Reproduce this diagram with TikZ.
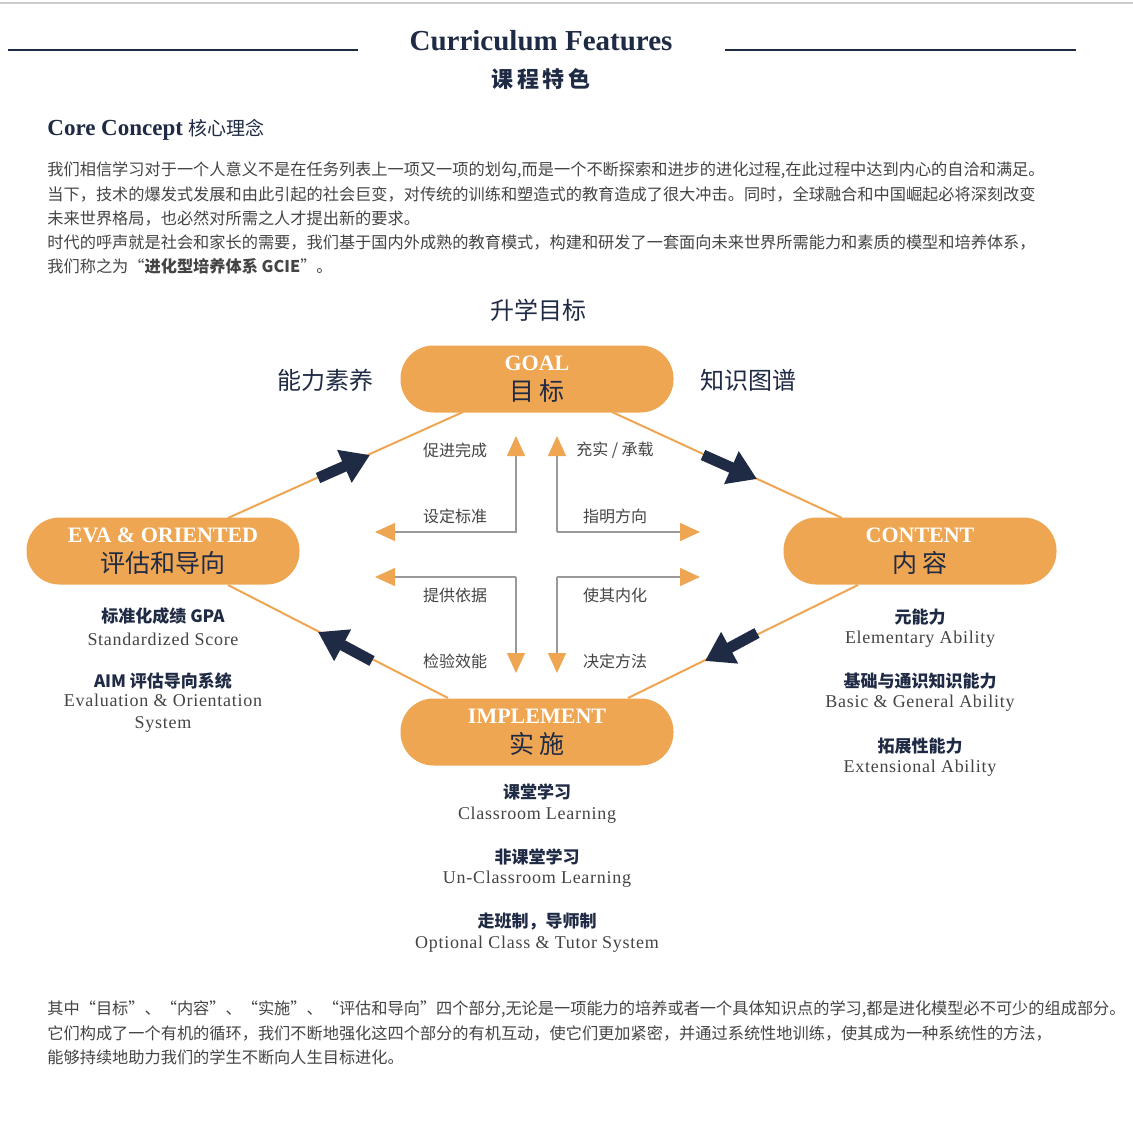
\documentclass[tikz,border=0pt]{standalone}
\usepackage{fontspec}
\setmainfont{Liberation Serif}
\newfontfamily\cjk{Noto Sans CJK SC}
\usetikzlibrary{arrows.meta}
\definecolor{orangec}{HTML}{EFA653}
\definecolor{navy}{HTML}{1F2A44}
\definecolor{txtgray}{HTML}{444444}
\newcommand{\pillen}{\color{white}\bfseries\fontsize{11}{11}\selectfont}
\newcommand{\pillcn}{\color{navy}\cjk\mdseries\fontsize{12.5}{13}\selectfont}
\tikzset{
  pill/.style={rounded corners=16.5pt,fill=orangec,minimum width=136.5pt,minimum height=33.5pt,align=center,inner sep=0pt},
  para/.style={anchor=west,font=\cjk\fontsize{8.1}{8}\selectfont,text=txtgray,inner sep=0pt},
  cnhead/.style={font=\cjk\bfseries\fontsize{8.5}{9}\selectfont,text=navy,inner sep=0pt},
  ensub/.style={font=\fontsize{9}{11}\selectfont\addfontfeatures{LetterSpace=4},text=txtgray,inner sep=0pt,align=center},
  big/.style={font=\cjk\fontsize{12}{12}\selectfont,text=navy},
  flow/.style={font=\cjk\fontsize{8}{8}\selectfont,text=txtgray},
  link/.style={orangec,line width=1pt},
  navyarrow/.style={navy,line width=5.5pt,-{Triangle[length=14pt,width=17pt]}},
  cross/.style={gray!80,line width=0.7pt,-{Triangle[length=10pt,width=9pt,color=orangec]}}
}
\begin{document}
\begin{tikzpicture}[x=0.5pt,y=-0.5pt]
\useasboundingbox[fill=white] (0,0) rectangle (1133,1123);
% header
\draw[gray!40,line width=1pt] (0,3) -- (1133,3);
\node[font=\bfseries\fontsize{14.5}{15}\selectfont,text=navy] (title) at (541,41) {Curriculum Features};
\node[font=\cjk\bfseries\fontsize{11}{11}\selectfont,text=navy] (titlecn) at (541,79) {课\,程\,特\,色};
\draw[navy,line width=0.7pt] (8,50) -- (358,50);
\draw[navy,line width=0.7pt] (725,50) -- (1076,50);
\node[anchor=west,inner sep=0pt,text=navy] (core) at (47,130) {\fontsize{11.5}{12}\selectfont\bfseries Core Concept\ \cjk\fontsize{9.5}{10}\selectfont\mdseries 核心理念};
% intro text
\node[para] (p1) at (47,170) {我们相信学习对于一个人意义不是在任务列表上一项又一项的划勾,而是一个不断探索和进步的进化过程,在此过程中达到内心的自洽和满足。};
\node[para] (p2) at (47,194) {当下，技术的爆发式发展和由此引起的社会巨变，对传统的训练和塑造式的教育造成了很大冲击。同时，全球融合和中国崛起必将深刻改变};
\node[para] (p3) at (47,218) {未来世界格局，也必然对所需之人才提出新的要求。};
\node[para] (p4) at (47,242) {时代的呼声就是社会和家长的需要，我们基于国内外成熟的教育模式，构建和研发了一套面向未来世界所需能力和素质的模型和培养体系，};
\node[para] (p5) at (47,266) {我们称之为“{\bfseries 进化型培养体系 GCIE}”。};
% diagram
\node[big] (aim) at (538,310) {升学目标};
\node[big] (ability) at (325,380) {能力素养};
\node[big] (knowledge) at (748,380) {知识图谱};
\node[pill] (goal) at (537,379) {\pillen GOAL\\[3pt]\pillcn 目\,标};
\node[pill] (eva) at (163,551) {\pillen EVA \& ORIENTED\\[3pt]\pillcn 评估和导向};
\node[pill] (content) at (920,551) {\pillen CONTENT\\[3pt]\pillcn 内\,容};
\node[pill] (impl) at (537,732) {\pillen IMPLEMENT\\[3pt]\pillcn 实\,施};
\coordinate (goalL) at (463,412); \coordinate (goalR) at (612,412);
\coordinate (evaT) at (228,518); \coordinate (evaB) at (228,585);
\coordinate (contT) at (842,518); \coordinate (contB) at (858,585);
\coordinate (implL) at (448,698); \coordinate (implR) at (628,698);
\draw[link] (goalL) -- (evaT);
\draw[link] (goalR) -- (contT);
\draw[link] (evaB) -- (implL);
\draw[link] (contB) -- (implR);
\draw[navyarrow] (318,478) -- (370,455);
\draw[navyarrow] (703,455) -- (757,479);
\draw[navyarrow] (757,633) -- (705,661);
\draw[navyarrow] (372,661) -- (318,632);
% cross
\draw[cross] (395,532) -- (516,532) -- (516,436);
\draw[cross] (516,532) -- (375,532);
\draw[cross] (557,532) -- (557,436);
\draw[cross] (557,532) -- (700,532);
\draw[cross] (516,577) -- (375,577);
\draw[cross] (516,577) -- (516,673);
\draw[cross] (557,577) -- (700,577);
\draw[cross] (557,577) -- (557,673);
\node[flow] (f1) at (455,450) {促进完成};
\node[flow] (f2) at (615,450) {充实 / 承载};
\node[flow] (f3) at (455,516) {设定标准};
\node[flow] (f4) at (615,516) {指明方向};
\node[flow] (f5) at (455,595) {提供依据};
\node[flow] (f6) at (615,595) {使其内化};
\node[flow] (f7) at (455,661) {检验效能};
\node[flow] (f8) at (615,661) {决定方法};
% details
\node[cnhead] (gpa) at (163,616) {标准化成绩 GPA};
\node[ensub] (gpaen) at (163,639) {Standardized Score};
\node[cnhead] (aimsys) at (163,681) {AIM 评估导向系统};
\node[ensub,anchor=north] (aimen) at (163,694) {Evaluation \& Orientation\\System};
\node[cnhead] (meta) at (920,617) {元能力};
\node[ensub] (metaen) at (920,639) {Elementary Ability};
\node[cnhead] (basic) at (920,681) {基础与通识知识能力};
\node[ensub] (basicen) at (920,703) {Basic \& General Ability};
\node[cnhead] (ext) at (920,746) {拓展性能力};
\node[ensub] (exten) at (920,768) {Extensional Ability};
\node[cnhead] (cls) at (537,792) {课堂学习};
\node[ensub] (clsen) at (537,815) {Classroom Learning};
\node[cnhead] (ucls) at (537,857) {非课堂学习};
\node[ensub] (uclsen) at (537,879) {Un-Classroom Learning};
\node[cnhead] (tutor) at (537,922) {走班制，导师制};
\node[ensub] (tutoren) at (537,944) {Optional Class \& Tutor System};
% closing text
\node[para] (q1) at (47,1009) {其中“目标”、“内容”、“实施”、“评估和导向”四个部分,无论是一项能力的培养或者一个具体知识点的学习,都是进化模型必不可少的组成部分。};
\node[para] (q2) at (47,1033) {它们构成了一个有机的循环，我们不断地强化这四个部分的有机互动，使它们更加紧密，并通过系统性地训练，使其成为一种系统性的方法，};
\node[para] (q3) at (47,1057) {能够持续地助力我们的学生不断向人生目标进化。};
\end{tikzpicture}
\end{document}
